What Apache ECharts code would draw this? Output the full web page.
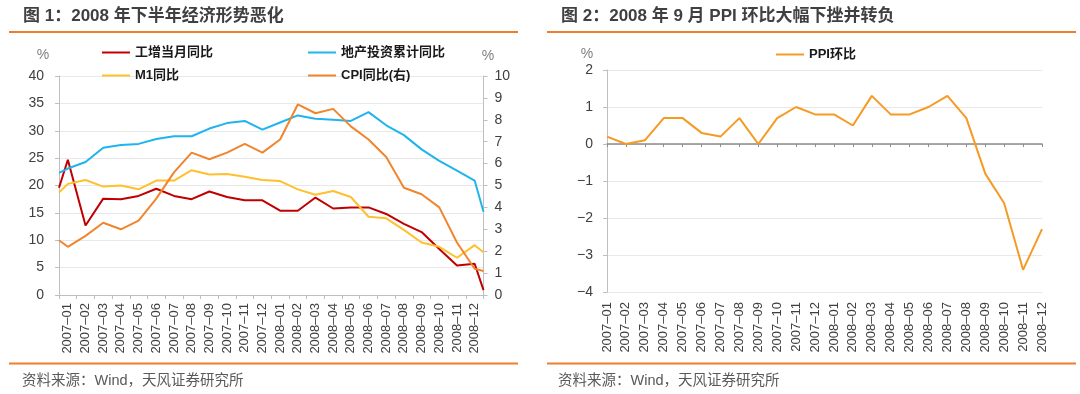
<!DOCTYPE html>
<html><head><meta charset="utf-8">
<script src="https://cdn.jsdelivr.net/npm/echarts@6/dist/echarts.min.js"></script>
<style>html,body{margin:0;padding:0;background:#fff}#c{width:1080px;height:394px}</style>
</head><body><div id="c"></div>
<script>
// Category labels (months)
const months = ['2007-01','2007-02','2007-03','2007-04','2007-05','2007-06','2007-07','2007-08','2007-09','2007-10','2007-11','2007-12',
  '2008-01','2008-02','2008-03','2008-04','2008-05','2008-06','2008-07','2008-08','2008-09','2008-10','2008-11','2008-12'];

// Chart 1 series: first and last value sit on the left/right plot edges, the others at month centres
const indGrowth = [19.6, 24.7, 12.7, 17.6, 17.5, 18.1, 19.4, 18.1, 17.5, 18.9, 17.9, 17.3, 17.3, 15.4, 15.4, 17.8, 15.8, 16.0, 16.0, 14.8, 13.0, 11.5, 8.4, 5.4, 5.7, 0.9];
const realEstateInv = [22.3, 23.1, 24.3, 26.9, 27.4, 27.6, 28.5, 29.0, 29.0, 30.4, 31.4, 31.8, 30.2, 31.5, 32.8, 32.2, 32.0, 31.8, 33.4, 31.0, 29.2, 26.6, 24.5, 22.7, 20.9, 15.2];
const m1 = [18.7, 20.3, 21.0, 19.8, 20.0, 19.3, 20.9, 20.9, 22.8, 22.0, 22.1, 21.6, 21.0, 20.8, 19.3, 18.3, 19.0, 17.9, 14.3, 14.0, 11.9, 9.6, 8.8, 6.8, 9.1, 7.8];
const cpi = [2.5, 2.2, 2.7, 3.3, 3.0, 3.4, 4.4, 5.6, 6.5, 6.2, 6.5, 6.9, 6.5, 7.1, 8.7, 8.3, 8.5, 7.7, 7.1, 6.3, 4.9, 4.6, 4.0, 2.4, 1.2, 1.1];

// Chart 2 series
const ppi = [0.2, 0.0, 0.1, 0.7, 0.7, 0.3, 0.2, 0.7, 0.0, 0.7, 1.0, 0.8, 0.8, 0.5, 1.3, 0.8, 0.8, 1.0, 1.3, 0.7, -0.8, -1.6, -3.4, -2.3];

const leftTicks = {min: 0, max: 40, interval: 5};
const rightTicks = {min: 0, max: 10, interval: 1};
const ppiTicks = {min: -4, max: 2, interval: 1};

// month index of each chart-1 point (edge, centres, edge)
const xIdx = [0].concat(months.map((m, i) => i + 0.5), [months.length]);
const pairs = arr => arr.map((v, i) => [xIdx[i], v]);

const FONT = '"Liberation Sans", Arial, "Noto Sans CJK SC", sans-serif';
const txt = '#404040';
const axisGray = '#BFBFBF';
const fmt = v => v.replace('-', '\u2013');
const numFmt = v => (v < 0 ? '\u2212' + Math.abs(v) : String(v));

const chart = echarts.init(document.getElementById('c'));
const legendBase = {
  icon: 'rect', itemWidth: 28, itemHeight: 2, padding: 0,
  textStyle: {fontFamily: FONT, fontSize: 13, fontWeight: 'bold', color: '#1a1a1a'}
};
const lineS = (name, data, color, xi, yi) => ({
  name, type: 'line', data, xAxisIndex: xi, yAxisIndex: yi, symbol: 'none',
  lineStyle: {width: 2, color}, itemStyle: {color}, emphasis: {disabled: true}
});

chart.setOption({
  animation: false,
  textStyle: {fontFamily: FONT},
  grid: [
    {left: 59, top: 76, width: 424.5, height: 219},
    {left: 607, top: 70, width: 435, height: 222}
  ],
  legend: [
    Object.assign({data: ['工增当月同比'], left: 102, top: 46}, legendBase),
    Object.assign({data: ['地产投资累计同比'], left: 308, top: 46}, legendBase),
    Object.assign({data: ['M1同比'], left: 102, top: 69}, legendBase),
    Object.assign({data: ['CPI同比(右)'], left: 308, top: 69}, legendBase),
    Object.assign({data: ['PPI环比'], left: 776, top: 48}, legendBase)
  ],
  xAxis: [
    {gridIndex: 0, type: 'category', data: months, boundaryGap: true,
      axisLine: {show: true, lineStyle: {color: axisGray}},
      axisTick: {show: true, length: 4, lineStyle: {color: axisGray}},
      axisLabel: {rotate: 90, interval: 0, fontSize: 13, color: txt, margin: 8, formatter: fmt},
      splitLine: {show: false}},
    {gridIndex: 0, type: 'value', min: 0, max: months.length, show: false},
    {gridIndex: 1, type: 'category', data: months, boundaryGap: false,
      axisLine: {show: false, onZero: false}, axisTick: {show: false},
      axisLabel: {rotate: 90, interval: 0, fontSize: 13, color: txt, margin: 10, formatter: fmt},
      splitLine: {show: false}},
    {gridIndex: 1, type: 'category', data: months, boundaryGap: false, position: 'top',
      axisLine: {show: true, onZero: true, lineStyle: {color: '#8C8C8C', width: 1.5}},
      axisTick: {show: true, inside: true, length: 3, interval: 0, lineStyle: {color: '#8C8C8C'}},
      axisLabel: {show: false}, splitLine: {show: false}}
  ],
  yAxis: [
    Object.assign({gridIndex: 0, type: 'value',
      axisLine: {show: true, lineStyle: {color: axisGray}},
      axisTick: {show: true, length: 4, lineStyle: {color: axisGray}},
      axisLabel: {fontSize: 14, color: txt, margin: 15},
      splitLine: {show: true, lineStyle: {color: '#E8E8E8'}}}, leftTicks),
    Object.assign({gridIndex: 0, type: 'value', position: 'right',
      axisLine: {show: true, lineStyle: {color: axisGray}},
      axisTick: {show: true, length: 4, lineStyle: {color: axisGray}},
      axisLabel: {fontSize: 14, color: txt, margin: 11},
      splitLine: {show: false}}, rightTicks),
    Object.assign({gridIndex: 1, type: 'value',
      axisLine: {show: true, lineStyle: {color: axisGray}},
      axisTick: {show: true, length: 4, lineStyle: {color: axisGray}},
      axisLabel: {fontSize: 14, color: txt, margin: 14, formatter: numFmt},
      splitLine: {show: true, lineStyle: {color: '#E8E8E8'}}}, ppiTicks)
  ],
  series: [
    lineS('工增当月同比', pairs(indGrowth), '#C00000', 1, 0),
    lineS('地产投资累计同比', pairs(realEstateInv), '#1FB4EE', 1, 0),
    lineS('M1同比', pairs(m1), '#FFC02E', 1, 0),
    lineS('CPI同比(右)', pairs(cpi), '#F0852D', 1, 1),
    lineS('PPI环比', ppi, '#F59A23', 2, 2)
  ],
  graphic: [
    {type: 'text', x: 23, y: 16, style: {text: '图 1：2008 年下半年经济形势恶化', font: 'bold 17px ' + FONT, fill: '#404040', verticalAlign: 'middle'}},
    {type: 'text', x: 561, y: 16, style: {text: '图 2：2008 年 9 月 PPI 环比大幅下挫并转负', font: 'bold 17px ' + FONT, fill: '#404040', verticalAlign: 'middle'}},
    {type: 'rect', shape: {x: 9, y: 31, width: 509, height: 2}, style: {fill: '#ED7D31'}},
    {type: 'rect', shape: {x: 547, y: 31, width: 529, height: 2}, style: {fill: '#ED7D31'}},
    {type: 'rect', shape: {x: 9, y: 362.5, width: 509, height: 2}, style: {fill: '#ED7D31'}},
    {type: 'rect', shape: {x: 547, y: 362.5, width: 529, height: 2}, style: {fill: '#ED7D31'}},
    {type: 'text', x: 22, y: 381, style: {text: '资料来源：Wind，天风证券研究所', font: '14.5px ' + FONT, fill: '#595959', verticalAlign: 'middle'}},
    {type: 'text', x: 558, y: 381, style: {text: '资料来源：Wind，天风证券研究所', font: '14.5px ' + FONT, fill: '#595959', verticalAlign: 'middle'}},
    {type: 'text', x: 43, y: 55, style: {text: '%', font: '14px ' + FONT, fill: '#7F7F7F', align: 'center', verticalAlign: 'middle'}},
    {type: 'text', x: 488, y: 56, style: {text: '%', font: '14px ' + FONT, fill: '#7F7F7F', align: 'center', verticalAlign: 'middle'}},
    {type: 'text', x: 587, y: 54, style: {text: '%', font: '14px ' + FONT, fill: '#7F7F7F', align: 'center', verticalAlign: 'middle'}}
  ]
});
</script>
</body></html>
